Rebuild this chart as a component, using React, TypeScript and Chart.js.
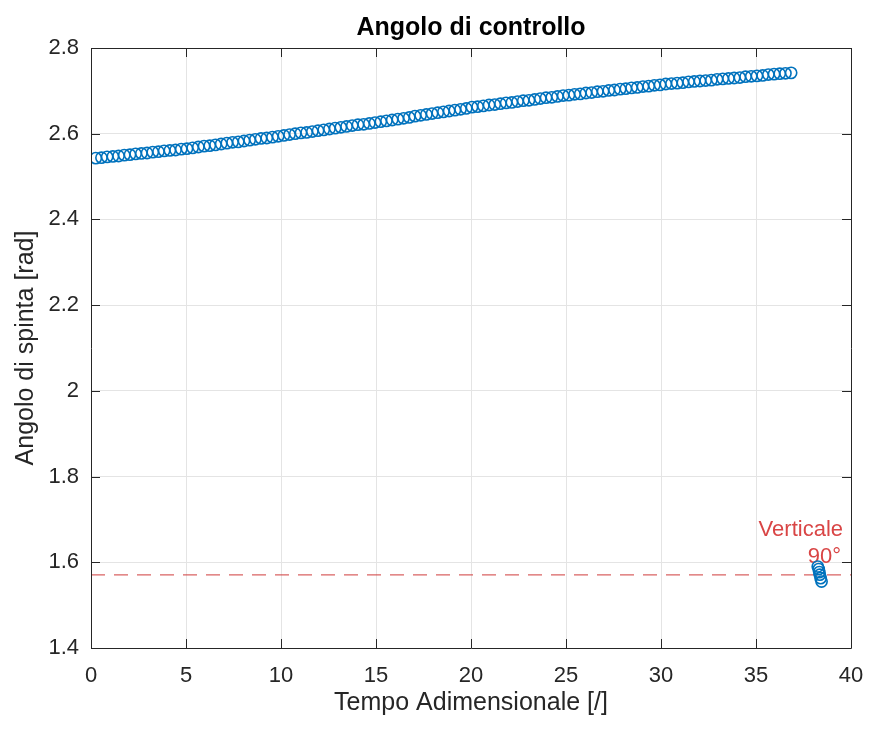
import React, { useEffect, useRef } from "react";
import { Chart, registerables } from "chart.js";

Chart.register(...registerables);

const timeValues = [
  0.25, 0.55, 0.85, 1.15, 1.45, 1.75, 2.05, 2.35, 2.65, 2.95, 3.25, 3.55, 3.85, 4.15, 4.45, 4.75, 5.05,
  5.35, 5.65, 5.95, 6.25, 6.55, 6.85, 7.15, 7.45, 7.75, 8.05, 8.35, 8.65, 8.95, 9.25, 9.55, 9.85, 10.15,
  10.45, 10.75, 11.05, 11.35, 11.65, 11.95, 12.25, 12.55, 12.85, 13.15, 13.45, 13.75, 14.05, 14.35, 14.65, 14.95, 15.25,
  15.55, 15.85, 16.15, 16.45, 16.75, 17.05, 17.35, 17.65, 17.95, 18.25, 18.55, 18.85, 19.15, 19.45, 19.75, 20.05,
  20.35, 20.65, 20.95, 21.25, 21.55, 21.85, 22.15, 22.45, 22.75, 23.05, 23.35, 23.65, 23.95, 24.25, 24.55, 24.85, 25.15,
  25.45, 25.75, 26.05, 26.35, 26.65, 26.95, 27.25, 27.55, 27.85, 28.15, 28.45, 28.75, 29.05, 29.35, 29.65, 29.95, 30.25,
  30.55, 30.85, 31.15, 31.45, 31.75, 32.05, 32.35, 32.65, 32.95, 33.25, 33.55, 33.85, 34.15, 34.45, 34.75, 35.05,
  35.35, 35.65, 35.95, 36.25, 36.55, 36.85,
];

const angleValues = [
  2.543, 2.544, 2.546, 2.547, 2.548, 2.55, 2.551, 2.553, 2.554, 2.555, 2.557, 2.558, 2.56, 2.561, 2.562, 2.564, 2.565,
  2.567, 2.569, 2.571, 2.572, 2.574, 2.576, 2.578, 2.58, 2.581, 2.583, 2.585, 2.587, 2.589, 2.59, 2.592, 2.594, 2.596,
  2.598, 2.6, 2.602, 2.603, 2.605, 2.607, 2.609, 2.611, 2.613, 2.615, 2.617, 2.619, 2.621, 2.622, 2.624, 2.626, 2.628,
  2.63, 2.632, 2.634, 2.636, 2.638, 2.641, 2.643, 2.645, 2.647, 2.649, 2.651, 2.653, 2.655, 2.657, 2.659, 2.662,
  2.663, 2.665, 2.667, 2.668, 2.67, 2.672, 2.673, 2.675, 2.677, 2.678, 2.68, 2.682, 2.684, 2.685, 2.687, 2.689, 2.69,
  2.692, 2.693, 2.695, 2.696, 2.698, 2.699, 2.701, 2.702, 2.704, 2.705, 2.707, 2.708, 2.71, 2.711, 2.713, 2.714, 2.716,
  2.717, 2.718, 2.719, 2.721, 2.722, 2.723, 2.724, 2.725, 2.727, 2.728, 2.729, 2.73, 2.731, 2.733, 2.734, 2.735,
  2.736, 2.738, 2.739, 2.74, 2.741, 2.742,
];

const finalTimeValues = [38.25, 38.3, 38.33, 38.36, 38.4, 38.45];
const finalAngleValues = [1.59, 1.584, 1.577, 1.571, 1.563, 1.555];

const verticalLineTime = [0, 40];
const verticalAngle = 1.5708;
const verticalLabel = ["Verticale", "90°"];

const xTicks = [0, 5, 10, 15, 20, 25, 30, 35, 40];
const yTicks = [1.4, 1.6, 1.8, 2.0, 2.2, 2.4, 2.6, 2.8];

const titleText = "Angolo di controllo";
const xTitle = "Tempo Adimensionale [/]";
const yTitle = "Angolo di spinta [rad]";

const FONT = "'Liberation Sans', Arial, Helvetica, sans-serif";
const AXIS = "#262626";
const BLUE = "#0072BD";
const RED = "#d94545";

const decorPlugin = {
  id: "decor",
  beforeDatasetsDraw(chart: any) {
    const { ctx, chartArea, scales } = chart;
    const yPix = scales.y.getPixelForValue(verticalAngle);
    ctx.save();
    ctx.fillStyle = RED;
    ctx.font = `22px ${FONT}`;
    ctx.textAlign = "right";
    ctx.textBaseline = "alphabetic";
    ctx.fillText(verticalLabel[0], chartArea.right - 8, yPix - 39);
    ctx.fillText(verticalLabel[1], chartArea.right - 10, yPix - 12);
    ctx.restore();
  },
  afterDatasetsDraw(chart: any) {
    const { ctx, chartArea, scales } = chart;
    const { left, right, top, bottom } = chartArea;
    ctx.save();
    ctx.strokeStyle = AXIS;
    ctx.lineWidth = 1;
    ctx.beginPath();
    ctx.rect(left + 0.5, top + 0.5, right - left, bottom - top);
    const tl = 9;
    xTicks.forEach((v) => {
      const px = Math.round(scales.x.getPixelForValue(v)) + 0.5;
      ctx.moveTo(px, bottom);
      ctx.lineTo(px, bottom - tl);
      ctx.moveTo(px, top);
      ctx.lineTo(px, top + tl);
    });
    yTicks.forEach((v) => {
      const py = Math.round(scales.y.getPixelForValue(v)) + 0.5;
      ctx.moveTo(left, py);
      ctx.lineTo(left + tl, py);
      ctx.moveTo(right, py);
      ctx.lineTo(right - tl, py);
    });
    ctx.stroke();

    ctx.fillStyle = "#000";
    ctx.font = `bold 25px ${FONT}`;
    ctx.textAlign = "center";
    ctx.textBaseline = "middle";
    ctx.fillText(titleText, (left + right) / 2, 28);

    ctx.fillStyle = AXIS;
    ctx.font = `25px ${FONT}`;
    ctx.fillText(xTitle, (left + right) / 2, 703);

    ctx.save();
    ctx.translate(26, (top + bottom) / 2);
    ctx.rotate(-Math.PI / 2);
    ctx.fillText(yTitle, 0, 0);
    ctx.restore();
    ctx.restore();
  },
};

export default function App() {
  const canvasRef = useRef<HTMLCanvasElement | null>(null);

  useEffect(() => {
    if (!canvasRef.current) return;
    const mainPts = timeValues.map((t, i) => ({ x: t, y: angleValues[i] }));
    const finalPts = finalTimeValues.map((t, i) => ({ x: t, y: finalAngleValues[i] }));
    const linePts = verticalLineTime.map((t) => ({ x: t, y: verticalAngle }));

    const markerStyle = {
      showLine: false,
      pointStyle: "circle",
      pointRadius: 5.6,
      pointHoverRadius: 5.6,
      pointBorderWidth: 1.6,
      borderColor: BLUE,
      pointBorderColor: BLUE,
      backgroundColor: "rgba(0,0,0,0)",
      pointBackgroundColor: "rgba(0,0,0,0)",
    };

    const chart = new Chart(canvasRef.current, {
      type: "scatter",
      data: {
        datasets: [
          { ...markerStyle, data: mainPts } as any,
          { ...markerStyle, data: finalPts } as any,
          {
            type: "line",
            data: linePts,
            borderColor: "rgba(210,70,70,0.85)",
            borderWidth: 1.2,
            borderDash: [14, 9],
            pointRadius: 0,
            fill: false,
            showLine: true,
          } as any,
        ],
      },
      options: {
        responsive: false,
        animation: false,
        events: [],
        layout: { padding: { left: 0, right: 21, top: 48, bottom: 0 } },
        plugins: {
          legend: { display: false },
          tooltip: { enabled: false },
          title: { display: false },
        },
        scales: {
          x: {
            type: "linear",
            min: 0,
            max: 40,
            afterBuildTicks: (s: any) => {
              s.ticks = xTicks.map((v) => ({ value: v }));
            },
            afterFit: (s: any) => {
              s.height = 81;
              s.paddingLeft = 0;
              s.paddingRight = 0;
            },
            grid: { color: "#e4e4e4", drawTicks: false, lineWidth: 1 },
            border: { display: false },
            ticks: {
              color: AXIS,
              font: { family: FONT, size: 22 },
              padding: 15,
              maxRotation: 0,
              autoSkip: false,
              callback: (v: any) => String(v),
            },
          },
          y: {
            type: "linear",
            min: 1.4,
            max: 2.8,
            afterBuildTicks: (s: any) => {
              s.ticks = yTicks.map((v) => ({ value: v }));
            },
            afterFit: (s: any) => {
              s.width = 91;
              s.paddingTop = 0;
              s.paddingBottom = 0;
            },
            grid: { color: "#e4e4e4", drawTicks: false, lineWidth: 1 },
            border: { display: false },
            ticks: {
              color: AXIS,
              font: { family: FONT, size: 22 },
              padding: 12,
              autoSkip: false,
              callback: (v: any) => String(Number(Number(v).toFixed(1))),
            },
          },
        },
      },
      plugins: [decorPlugin],
    });
    return () => chart.destroy();
  }, []);

  return (
    <div style={{ position: "fixed", left: 0, top: 0, width: 872, height: 729, background: "#fff" }}>
      <canvas ref={canvasRef} width={872} height={729} style={{ display: "block" }} />
    </div>
  );
}
